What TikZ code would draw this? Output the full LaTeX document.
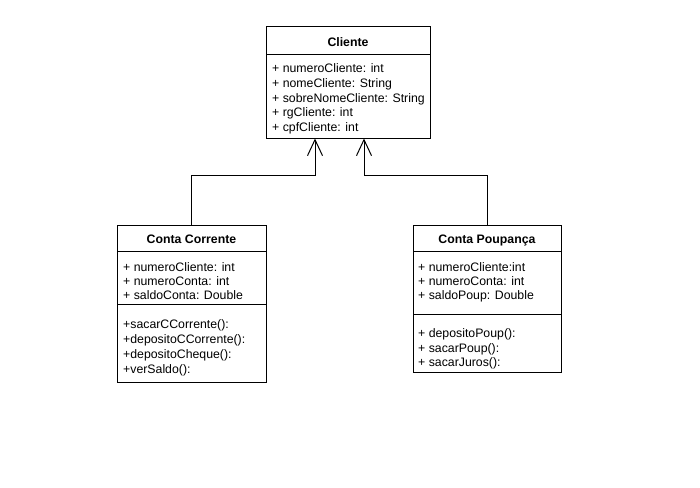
\documentclass[tikz,border=0pt]{standalone}
\usepackage{fontspec}
\setmainfont{Liberation Sans}
\usetikzlibrary{arrows.meta}
\begin{document}
\begin{tikzpicture}[x=1pt,y=-1pt,
  umlbox/.style={draw=black,line width=1pt,inner sep=0pt},
  hdr/.style={anchor=base,font=\fontsize{12.3}{14}\selectfont\bfseries,inner sep=0pt},
  txt/.style={anchor=base west,font=\fontsize{12.3}{14}\selectfont,inner sep=0pt},
  divider/.style={line width=1pt},
  inh/.style={line width=1pt,-{Straight Barb[length=16pt,width=15pt,line width=1pt]}}]
\useasboundingbox[fill=white] (0,0) rectangle (700,487);
% Cliente
\node[umlbox,minimum width=164pt,minimum height=111pt] (cliente) at (348,82.5) {};
\draw[divider] (266,54) -- (430,54);
\node[hdr] (clh) at (348,46) {Cliente};
\node[txt] (c1) at (272,72.5) {+ numeroCliente: int};
\node[txt] (c2) at (272,87.3) {+ nomeCliente: String};
\node[txt] (c3) at (272,102.1) {+ sobreNomeCliente: String};
\node[txt] (c4) at (272,116.9) {+ rgCliente: int};
\node[txt] (c5) at (272,131.7) {+ cpfCliente: int};
% Conta Corrente
\node[umlbox,minimum width=149pt,minimum height=157pt] (corrente) at (191.5,303.5) {};
\draw[divider] (117,251) -- (266,251);
\draw[divider] (117,304) -- (266,304);
\node[hdr] (cch) at (191.5,243.3) {Conta Corrente};
\node[txt] (a1) at (123,271) {+ numeroCliente: int};
\node[txt] (a2) at (123,285) {+ numeroConta: int};
\node[txt] (a3) at (123,299) {+ saldoConta: Double};
\node[txt] (m1) at (123,328.6) {+sacarCCorrente():};
\node[txt] (m2) at (123,343.5) {+depositoCCorrente():};
\node[txt] (m3) at (123,358.4) {+depositoCheque():};
\node[txt] (m4) at (123,373.3) {+verSaldo():};
% Conta Poupanca
\node[umlbox,minimum width=148pt,minimum height=147pt] (poupanca) at (487,298.5) {};
\draw[divider] (413,251) -- (561,251);
\draw[divider] (413,314) -- (561,314);
\node[hdr] (cph) at (487,243.3) {Conta Poupança};
\node[txt] (p1) at (418,271) {+ numeroCliente:int};
\node[txt] (p2) at (418,285) {+ numeroConta: int};
\node[txt] (p3) at (418,299.3) {+ saldoPoup: Double};
\node[txt] (q1) at (418,337.6) {+ depositoPoup():};
\node[txt] (q2) at (418,352.1) {+ sacarPoup():};
\node[txt] (q3) at (418,366.6) {+ sacarJuros():};
% connectors
\coordinate (lk) at (315,175);
\coordinate (rk) at (364,175);
\draw[inh] (corrente.north) |- (lk) -- (lk |- cliente.south);
\draw[inh] (poupanca.north) |- (rk) -- (rk |- cliente.south);
\end{tikzpicture}
\end{document}
